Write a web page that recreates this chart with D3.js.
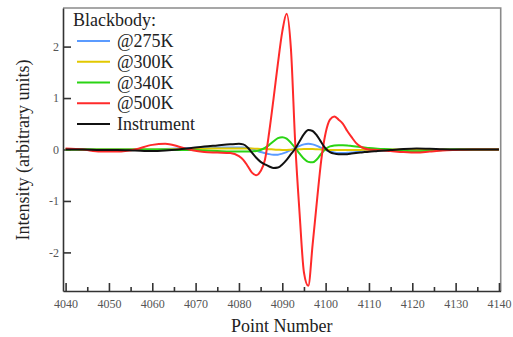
<!DOCTYPE html>
<html>
<head>
<meta charset="utf-8">
<script src="https://cdn.jsdelivr.net/npm/d3@7"></script>
<style>
body { margin: 0; background: #fff; }
text { font-family: "Liberation Serif", "Times New Roman", serif; }
</style>
</head>
<body>
<svg id="chart" width="513" height="337"></svg>
<script>
// point numbers shared by every series (denser around the burst)
var points = [4040, 4044, 4048, 4052, 4056, 4060, 4063, 4066, 4069, 4072, 4075, 4078,
    4080, 4081, 4082, 4083, 4084, 4085, 4086, 4087, 4088, 4089, 4090, 4091, 4092, 4093,
    4094, 4095, 4096, 4097, 4098, 4099, 4100, 4101, 4102, 4103, 4104, 4105, 4106, 4107,
    4108, 4109, 4110, 4112, 4115, 4118, 4121, 4124, 4127, 4130, 4134, 4140];

var bb275 = [0, 0, 0, 0, 0, 0, 0.01, 0.02, 0.03, 0.04, 0.04, 0.04,
    0.04, 0.04, 0.03, 0.01, -0.02, -0.05, -0.07, -0.09, -0.1, -0.1, -0.08, -0.05, -0.01, 0.03,
    0.07, 0.1, 0.11, 0.1, 0.07, 0.03, -0.01, -0.04, -0.06, -0.07, -0.07, -0.065, -0.06, -0.05,
    -0.04, -0.03, -0.025, -0.015, -0.005, 0, 0, 0, 0, 0, 0, 0];

var bb300 = [0, 0, 0, 0, 0, 0, 0, 0.005, 0.01, 0.015, 0.02, 0.02,
    0.02, 0.02, 0.02, 0.02, 0.015, 0.01, 0.01, 0.005, 0, -0.005, -0.01, -0.01, -0.005, 0,
    0.005, 0.01, 0.01, 0.01, 0.005, 0, -0.005, -0.01, -0.01, -0.01, -0.01, -0.01, -0.01, -0.01,
    -0.008, -0.006, -0.005, -0.003, 0, 0, 0, 0, 0, 0, 0, 0];

var bb340 = [0, 0, 0, 0, 0, 0, 0, -0.01, -0.01, -0.02, -0.03, -0.04,
    -0.04, -0.04, -0.04, -0.04, -0.03, -0.01, 0.03, 0.09, 0.16, 0.22, 0.24, 0.21, 0.13, 0.03,
    -0.08, -0.18, -0.24, -0.25, -0.19, -0.08, 0.01, 0.06, 0.08, 0.085, 0.085, 0.08, 0.07, 0.06,
    0.05, 0.04, 0.03, 0.015, 0, -0.025, -0.035, -0.025, -0.01, 0, 0, 0];

var bb500 = [0.02, 0, -0.04, -0.04, 0, 0.09, 0.11, 0.06, -0.01, -0.05, -0.06, -0.07,
    -0.13, -0.2, -0.32, -0.45, -0.5, -0.42, -0.2, 0.35, 1.0, 1.68, 2.29, 2.64, 1.95, 0.1,
    -1.25, -2.39, -2.65, -1.85, -1.0, -0.2, 0.32, 0.58, 0.64, 0.58, 0.5, 0.36, 0.24, 0.13,
    0.06, 0.02, 0, -0.01, -0.03, -0.05, -0.06, -0.04, -0.02, -0.01, 0, 0];

var instrument = [0, 0, -0.01, -0.01, -0.02, -0.03, -0.02, 0, 0.03, 0.06, 0.08, 0.1,
    0.11, 0.1, 0.04, -0.06, -0.16, -0.24, -0.29, -0.33, -0.36, -0.35, -0.29, -0.2, -0.09, 0.02,
    0.16, 0.3, 0.38, 0.36, 0.27, 0.14, 0.02, -0.05, -0.08, -0.09, -0.09, -0.09, -0.08, -0.07,
    -0.06, -0.05, -0.045, -0.03, -0.01, 0.01, 0.02, 0.015, 0.005, 0, 0, 0];

var seriesNames = ["@275K", "@300K", "@340K", "@500K", "Instrument"];
var seriesValues = [bb275, bb300, bb340, bb500, instrument];
var seriesColors = ["#5b9bff", "#e2c800", "#2ad414", "#ff2a2a", "#111111"];
var legendTitle = "Blackbody:";

var xMajor = d3.range(4040, 4141, 10);
var xMinor = d3.range(4045, 4140, 10);
var yTicks = [-2, -1, 0, 1, 2];

var svg = d3.select("#chart");
var plotLeft = 63, plotRight = 500.7, plotTop = 8, plotBottom = 291;

var x = d3.scaleLinear().domain([4039.4, 4140.4]).range([plotLeft, plotRight]);
var y = d3.scaleLinear().domain([-2.75, 2.75]).range([plotBottom, plotTop]);

// gray frame on top and right
svg.append("path")
    .attr("d", "M" + plotLeft + "," + plotTop + "H" + plotRight + "V" + plotBottom)
    .attr("fill", "none")
    .attr("stroke", "#8a8a8a")
    .attr("stroke-width", 1.6);

// minor x ticks
svg.append("g")
    .attr("transform", "translate(0," + plotBottom + ")")
    .call(d3.axisBottom(x).tickValues(xMinor).tickSize(-4).tickSizeOuter(0).tickFormat(""))
    .call(function(g) { g.select(".domain").remove(); });

svg.append("g")
    .attr("transform", "translate(0," + plotBottom + ")")
    .call(d3.axisBottom(x).tickValues(xMajor).tickSize(-8).tickSizeOuter(0).tickPadding(8)
        .tickFormat(function(d) { return String(d); }));

svg.append("g")
    .attr("transform", "translate(" + plotLeft + ",0)")
    .call(d3.axisLeft(y).tickValues(yTicks).tickSize(-8).tickSizeOuter(0).tickPadding(4)
        .tickFormat(function(d) { return String(d); }));

svg.selectAll(".tick line").attr("stroke", "#333").attr("stroke-width", 1.6);
svg.selectAll(".domain").attr("stroke", "#333").attr("stroke-width", 1.6);
svg.selectAll(".tick text")
    .attr("fill", "#555")
    .style("font-size", "12px")
    .style("font-family", "'Liberation Serif', serif");

// curves
var line = d3.line()
    .x(function(d) { return x(d[0]); })
    .y(function(d) { return y(d[1]); })
    .curve(d3.curveMonotoneX);

seriesValues.forEach(function(vals, i) {
    svg.append("path")
        .datum(points.map(function(p, j) { return [p, vals[j]]; }))
        .attr("d", line)
        .attr("fill", "none")
        .attr("stroke", seriesColors[i])
        .attr("stroke-width", 2);
});

// legend
var legend = svg.append("g");
legend.append("text")
    .attr("x", 73).attr("y", 26)
    .style("font-size", "18px")
    .attr("fill", "#222")
    .text(legendTitle);

seriesNames.forEach(function(name, i) {
    var ly = 41 + i * 20.75;
    legend.append("line")
        .attr("x1", 77).attr("x2", 110)
        .attr("y1", ly).attr("y2", ly)
        .attr("stroke", seriesColors[i])
        .attr("stroke-width", 2);
    legend.append("text")
        .attr("x", 117).attr("y", ly + 6)
        .style("font-size", "18px")
        .attr("fill", "#222")
        .text(name);
});

// axis titles
svg.append("text")
    .attr("x", (plotLeft + plotRight) / 2).attr("y", 332)
    .attr("text-anchor", "middle")
    .style("font-size", "18px")
    .attr("fill", "#222")
    .text("Point Number");

svg.append("text")
    .attr("transform", "translate(29,150) rotate(-90)")
    .attr("text-anchor", "middle")
    .style("font-size", "18px")
    .attr("fill", "#222")
    .text("Intensity (arbitrary units)");
</script>
</body>
</html>
